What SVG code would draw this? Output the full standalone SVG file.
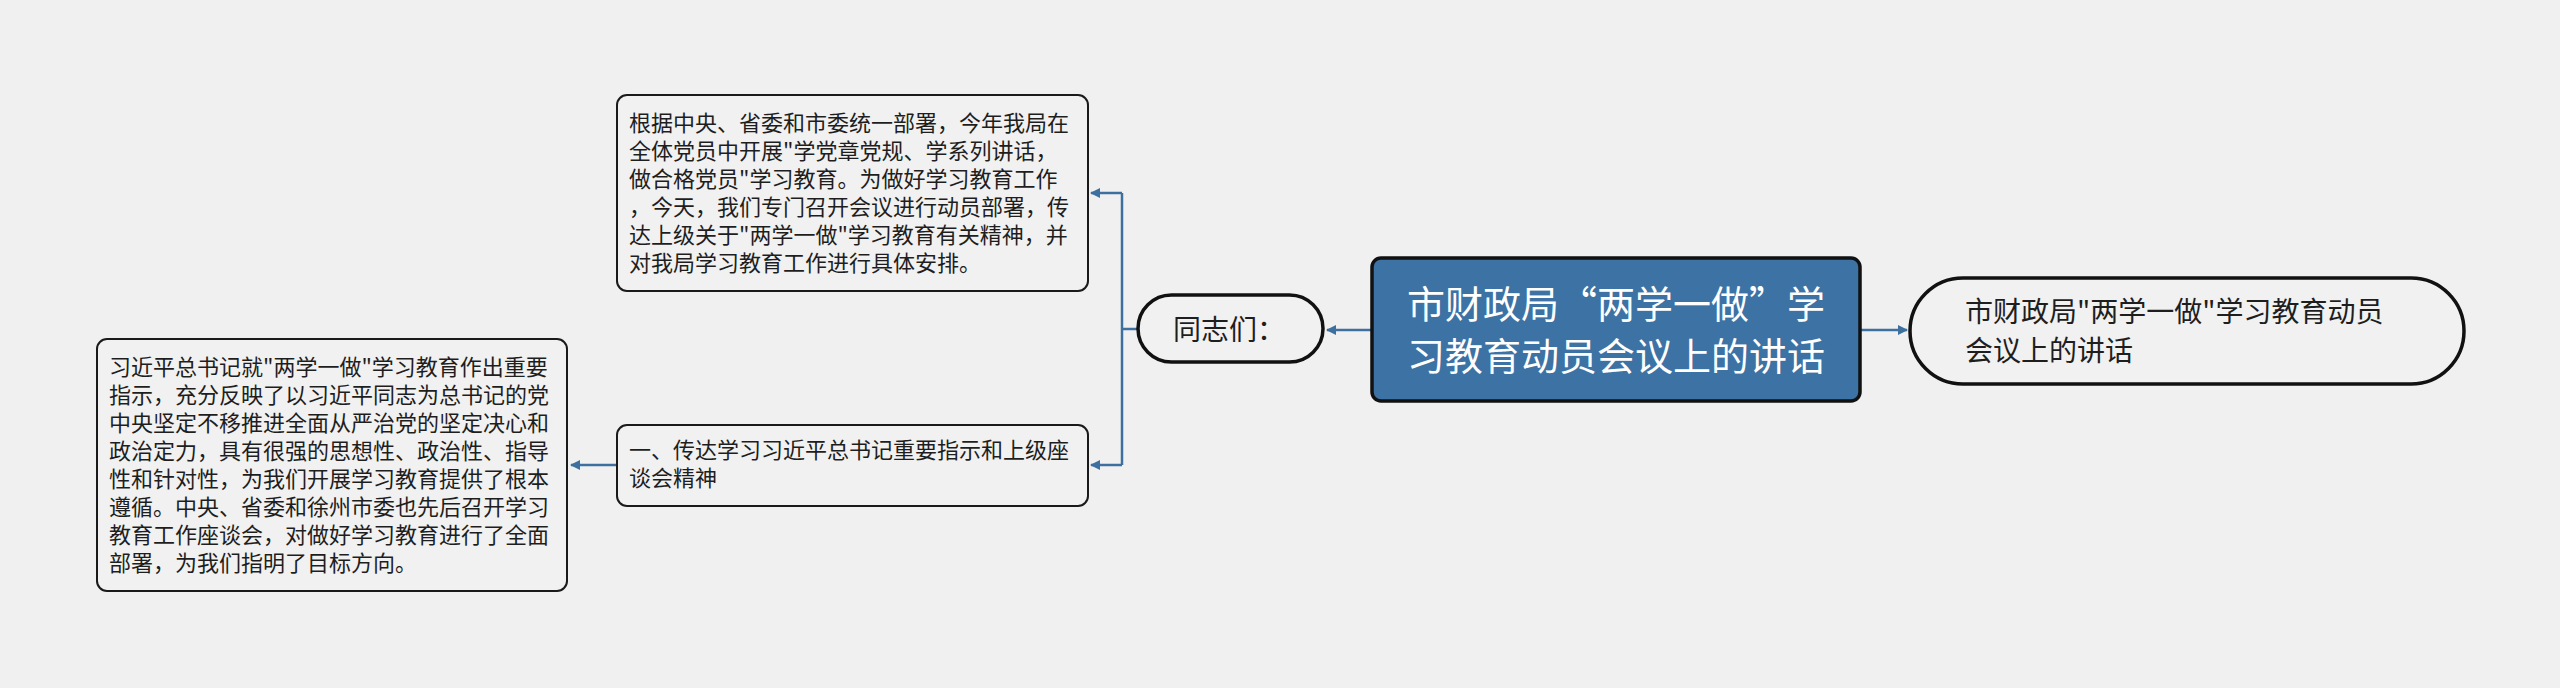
<svg xmlns="http://www.w3.org/2000/svg" width="2560" height="688" viewBox="0 0 2560 688">
<style>
.t{font-family:"Noto Sans CJK SC","Noto Sans",sans-serif;fill:#1e1e1e}
.box{fill:#f1f1f1;stroke:#1a1a1a;stroke-width:2}
.pill{fill:#f1f1f1;stroke:#111;stroke-width:3.5}
.c{fill:none;stroke:#3d6f9f;stroke-width:2.5}
</style>
<defs>
<marker id="ah" viewBox="0 0 10 10" refX="9" refY="5" markerWidth="10" markerHeight="10" markerUnits="userSpaceOnUse" orient="auto">
<path d="M0,0 L10,5 L0,10 z" fill="#3d6f9f"/>
</marker>
</defs>
<rect width="2560" height="688" fill="#f0f0f0"/>
<g id="connectors">
<path class="c" d="M1372,330 L1327,330" marker-end="url(#ah)"/>
<path class="c" d="M1138,329 L1122,329"/>
<path class="c" d="M1122,193 L1122,465"/>
<path class="c" d="M1122,193 L1091,193" marker-end="url(#ah)"/>
<path class="c" d="M1122,465 L1091,465" marker-end="url(#ah)"/>
<path class="c" d="M617,465 L571,465" marker-end="url(#ah)"/>
<path class="c" d="M1860,330 L1907,330" marker-end="url(#ah)"/>
</g>
<g id="root">
<rect x="1372" y="258" width="488" height="143" rx="9" fill="#3d72a4" stroke="#111" stroke-width="3.5"/>
<text class="t" style="fill:#fff" font-size="38" x="1407" y="318">市财政局“两学一做”学</text>
<text class="t" style="fill:#fff" font-size="38" x="1407" y="370">习教育动员会议上的讲话</text>
</g>
<g id="title-node">
<rect class="pill" x="1910" y="278" width="554" height="106" rx="53"/>
<text class="t" font-size="28" x="1965" y="322">市财政局"两学一做"学习教育动员</text>
<text class="t" font-size="28" x="1965" y="361">会议上的讲话</text>
</g>
<g id="tongzhimen">
<rect class="pill" x="1138" y="295" width="185" height="67" rx="33.5"/>
<text class="t" font-size="28" x="1173" y="340">同志们：</text>
</g>
<g id="intro">
<rect class="box" x="617" y="95" width="471" height="196" rx="10"/>
<text class="t" font-size="22" x="629" y="131">根据中央、省委和市委统一部署，今年我局在</text>
<text class="t" font-size="22" x="629" y="159">全体党员中开展"学党章党规、学系列讲话，</text>
<text class="t" font-size="22" x="629" y="187">做合格党员"学习教育。为做好学习教育工作</text>
<text class="t" font-size="22" x="629" y="215">，今天，我们专门召开会议进行动员部署，传</text>
<text class="t" font-size="22" x="629" y="243">达上级关于"两学一做"学习教育有关精神，并</text>
<text class="t" font-size="22" x="629" y="271">对我局学习教育工作进行具体安排。</text>
</g>
<g id="part1">
<rect class="box" x="617" y="425" width="471" height="81" rx="10"/>
<text class="t" font-size="22" x="629" y="458">一、传达学习习近平总书记重要指示和上级座</text>
<text class="t" font-size="22" x="629" y="486">谈会精神</text>
</g>
<g id="part1-detail">
<rect class="box" x="97" y="339" width="470" height="252" rx="10"/>
<text class="t" font-size="22" x="109" y="375">习近平总书记就"两学一做"学习教育作出重要</text>
<text class="t" font-size="22" x="109" y="403">指示，充分反映了以习近平同志为总书记的党</text>
<text class="t" font-size="22" x="109" y="431">中央坚定不移推进全面从严治党的坚定决心和</text>
<text class="t" font-size="22" x="109" y="459">政治定力，具有很强的思想性、政治性、指导</text>
<text class="t" font-size="22" x="109" y="487">性和针对性，为我们开展学习教育提供了根本</text>
<text class="t" font-size="22" x="109" y="515">遵循。中央、省委和徐州市委也先后召开学习</text>
<text class="t" font-size="22" x="109" y="543">教育工作座谈会，对做好学习教育进行了全面</text>
<text class="t" font-size="22" x="109" y="571">部署，为我们指明了目标方向。</text>
</g>
</svg>
